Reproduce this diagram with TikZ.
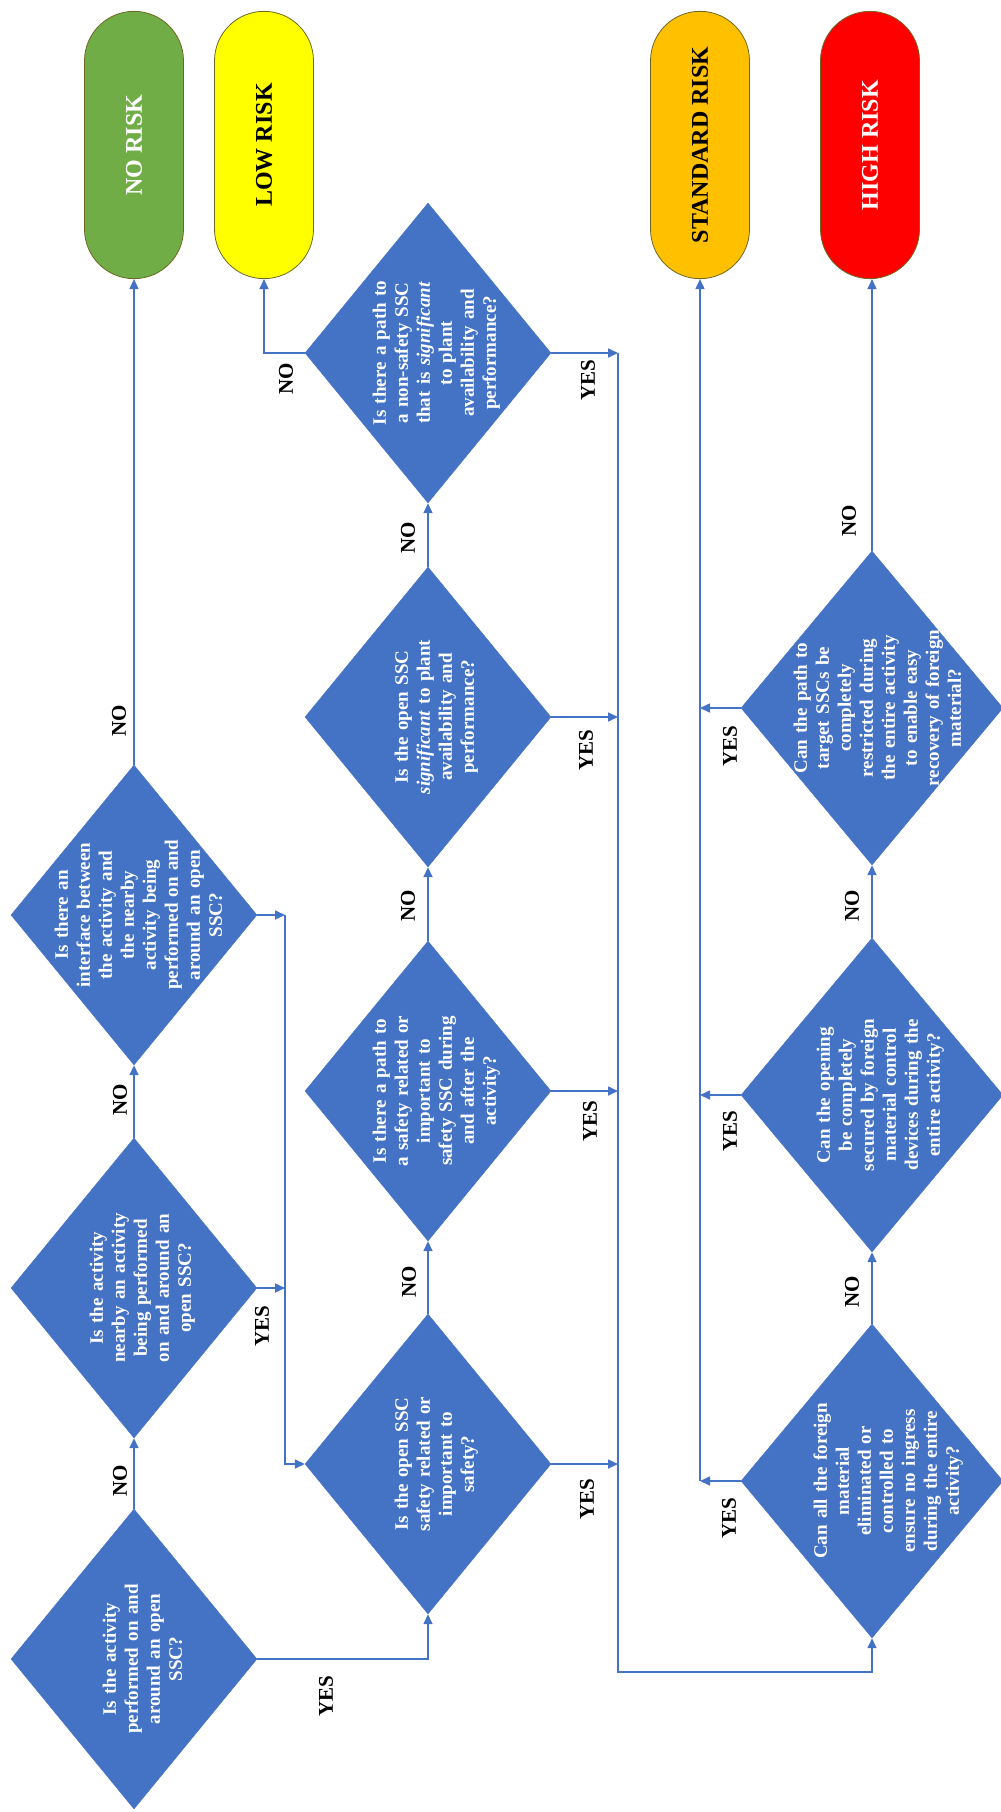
\documentclass[tikz,border=0pt]{standalone}
\usepackage{fontspec}
\setmainfont{Liberation Serif}
\usetikzlibrary{shapes.geometric, shapes.misc, arrows.meta, positioning}
\definecolor{qblue}{HTML}{4472C4}
\definecolor{riskgreen}{HTML}{70AD47}
\definecolor{riskyellow}{HTML}{FFFF00}
\definecolor{riskorange}{HTML}{FFC000}
\definecolor{riskred}{HTML}{FF0000}
\newcommand{\qlift}[1][30pt]{\rule{0pt}{#1}}
\tikzstyle{question}=[diamond, fill=qblue, draw=qblue, rotate=90, text=white, font=\bfseries\fontsize{19}{22}\selectfont, text width=180pt, align=center, inner sep=-32pt, minimum width=300pt, minimum height=246pt]
\tikzstyle{bigquestion}=[question, minimum width=314pt, minimum height=262pt]
\tikzstyle{outcome}=[rounded rectangle, rotate=90, draw=olive!70!black, line width=0.8pt, minimum width=274pt, minimum height=99pt, font=\bfseries\fontsize{24}{28}\selectfont]
\tikzstyle{flowarrow}=[->, >={Triangle[length=10pt, width=9pt]}, draw=qblue, line width=1.6pt]
\tikzstyle{answer}=[rotate=90, font=\bfseries\fontsize{21}{24}\selectfont]

\begin{document}
\begin{tikzpicture}[x=1pt, y=-1pt]
    %\draw[help lines] (0,0) grid (1001,1812) ;
    \useasboundingbox (0,0) rectangle (1001,1812) ;
    % outcomes
    \node[outcome, fill=riskgreen, text=white] (norisk) at (134,145) {NO RISK} ;
    \node[outcome, fill=riskyellow] (lowrisk) at (264,145) {LOW RISK} ;
    \node[outcome, fill=riskorange] (stdrisk) at (700,145) {STANDARD RISK} ;
    \node[outcome, fill=riskred, text=white] (highrisk) at (870,145) {HIGH RISK} ;
    % questions
    \node[question] (qopen) at (134,1659) {\qlift Is the activity\\performed on and\\around an open\\SSC?} ;
    \node[question] (qnear) at (134,1288) {\qlift Is the activity\\nearby an activity\\being performed\\on and around an\\open SSC?} ;
    \node[question] (qiface) at (134,915) {\qlift[22pt]Is there an\\interface between\\the activity and\\the nearby\\activity being\\performed on and\\around an open\\SSC?} ;
    \node[question] (qsafety) at (428,1464) {\qlift Is the open SSC\\safety related or\\important to\\safety?} ;
    \node[question] (qpath) at (428,1091) {\qlift Is there a path to\\a safety related or\\important to\\safety SSC during\\and after the\\activity?} ;
    \node[question] (qsignif) at (428,717) {\qlift Is the open SSC\\\textit{significant} to plant\\availability and\\performance?} ;
    \node[question] (qnonsafe) at (428,353) {\qlift Is there a path to\\a non-safety SSC\\that is \textit{significant}\\to plant\\availability and\\performance?} ;
    \node[bigquestion] (qelim) at (872,1481) {\qlift[46pt]Can all the foreign\\material\\eliminated or\\controlled to\\ensure no ingress\\during the entire\\activity?} ;
    \node[bigquestion] (qsecure) at (872,1095) {\qlift Can the opening\\be completely\\secured by foreign\\material control\\devices during the\\entire activity?} ;
    \node[bigquestion] (qrestrict) at (872,708) {\qlift[24pt]Can the path to\\target SSCs be\\completely\\restricted during\\the entire activity\\to enable easy\\recovery of foreign\\material?} ;
    % bus lines
    \coordinate (busa) at (285,915) ;
    \coordinate (busb) at (618,353) ;
    \coordinate (busbend) at (618,1672) ;
    % first column
    \draw[flowarrow] (qopen.east) -- (qnear.west) ;
    \draw[flowarrow] (qnear.east) -- (qiface.west) ;
    \draw[flowarrow] (qiface.east) -- (qiface.east |- norisk.west) ;
    \draw[flowarrow] (qopen.south) -| (qsafety.west) ;
    \draw[flowarrow] (qiface.south) -- (busa) ;
    \draw[flowarrow] (qnear.south) -- (qnear.south -| busa) ;
    \draw[flowarrow] (busa) |- (qsafety.north) ;
    % second column
    \draw[flowarrow] (qsafety.east) -- (qpath.west) ;
    \draw[flowarrow] (qpath.east) -- (qsignif.west) ;
    \draw[flowarrow] (qsignif.east) -- (qnonsafe.west) ;
    \draw[flowarrow] (qnonsafe.north) -| (lowrisk.west) ;
    \draw[flowarrow] (qnonsafe.south) -- (busb) ;
    \draw[flowarrow] (qsignif.south) -- (qsignif.south -| busb) ;
    \draw[flowarrow] (qpath.south) -- (qpath.south -| busb) ;
    \draw[flowarrow] (qsafety.south) -- (qsafety.south -| busb) ;
    \draw[flowarrow] (busb) -- (busbend) -| (qelim.west) ;
    % third column
    \draw[flowarrow] (qelim.east) -- (qsecure.west) ;
    \draw[flowarrow] (qsecure.east) -- (qrestrict.west) ;
    \draw[flowarrow] (qrestrict.east) -- (qrestrict.east |- highrisk.west) ;
    \draw[flowarrow] (qelim.north) -- (qelim.north -| stdrisk.west) ;
    \draw[flowarrow] (qsecure.north) -- (qsecure.north -| stdrisk.west) ;
    \draw[flowarrow] (qrestrict.north) -- (qrestrict.north -| stdrisk.west) ;
    \draw[flowarrow] (qelim.north -| stdrisk.west) -- (stdrisk.west) ;
    % answers
    \node[answer] (aopen) at (120,1481) {NO} ;
    \node[answer] (anear) at (120,1100) {NO} ;
    \node[answer] (aiface) at (119,721) {NO} ;
    \node[answer] (yopen) at (326,1696) {YES} ;
    \node[answer] (ynear) at (262,1326) {YES} ;
    \node[answer] (asafety) at (409,1282) {NO} ;
    \node[answer] (apath) at (408,906) {NO} ;
    \node[answer] (asignif) at (408,538) {NO} ;
    \node[answer] (anonsafe) at (286,379) {NO} ;
    \node[answer] (ynonsafe) at (588,380) {YES} ;
    \node[answer] (ysignif) at (586,750) {YES} ;
    \node[answer] (ypath) at (590,1121) {YES} ;
    \node[answer] (ysafety) at (587,1499) {YES} ;
    \node[answer] (aelim) at (852,1292) {NO} ;
    \node[answer] (asecure) at (852,906) {NO} ;
    \node[answer] (arestrict) at (849,521) {NO} ;
    \node[answer] (yelim) at (729,1518) {YES} ;
    \node[answer] (ysecure) at (730,1131) {YES} ;
    \node[answer] (yrestrict) at (730,746) {YES} ;
\end{tikzpicture}
\end{document}
